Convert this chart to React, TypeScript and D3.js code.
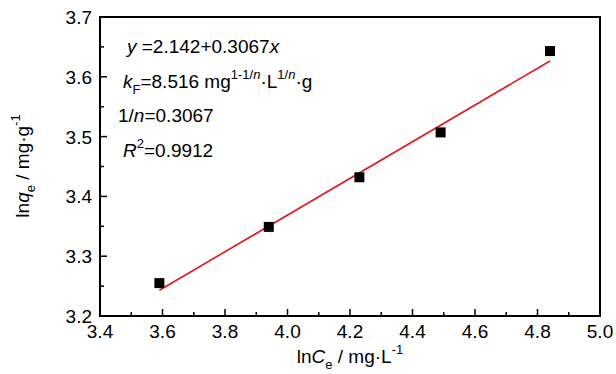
import React from "react";
import * as d3 from "d3";

const xData = [3.59, 3.94, 4.23, 4.49, 4.84];
const yData = [3.255, 3.349, 3.432, 3.507, 3.643];
const fitIntercept = 2.142;
const fitSlope = 0.3067;
const xTicks = [3.4, 3.6, 3.8, 4.0, 4.2, 4.4, 4.6, 4.8, 5.0];
const xMinor = [3.5, 3.7, 3.9, 4.1, 4.3, 4.5, 4.7, 4.9];
const yTicks = [3.2, 3.3, 3.4, 3.5, 3.6, 3.7];
const yMinor = [3.25, 3.35, 3.45, 3.55, 3.65];

const W = 616;
const H = 374;
const L = 100, R = 600, T = 17, B = 316;
const FONT = "'Liberation Sans', Arial, Helvetica, sans-serif";
const FS = 19;
const SS = 13;

export default function App() {
  const x = d3.scaleLinear().domain([3.4, 5.0]).range([L, R]);
  const y = d3.scaleLinear().domain([3.2, 3.7]).range([B, T]);
  const xExt = d3.extent(xData) as [number, number];
  const fit = d3
    .line<number>()
    .x((d) => x(d))
    .y((d) => y(fitIntercept + fitSlope * d));
  const ms = 10;
  return (
    <svg
      width={W}
      height={H}
      style={{ position: "absolute", left: 0, top: 0, background: "#fff" }}
      fontFamily={FONT}
    >
      <rect x={0} y={0} width={W} height={H} fill="#fff" />
      {/* ticks */}
      {xTicks.map((t) => (
        <line key={"xt" + t} x1={x(t)} x2={x(t)} y1={B} y2={B - 7} stroke="#000" strokeWidth={1.5} />
      ))}
      {xMinor.map((t) => (
        <line key={"xm" + t} x1={x(t)} x2={x(t)} y1={B} y2={B - 4} stroke="#000" strokeWidth={1.5} />
      ))}
      {yTicks.map((t) => (
        <line key={"yt" + t} x1={L} x2={L + 7} y1={y(t)} y2={y(t)} stroke="#000" strokeWidth={1.5} />
      ))}
      {yMinor.map((t) => (
        <line key={"ym" + t} x1={L} x2={L + 4} y1={y(t)} y2={y(t)} stroke="#000" strokeWidth={1.5} />
      ))}
      {/* frame */}
      <rect x={L} y={T} width={R - L} height={B - T} fill="none" stroke="#000" strokeWidth={2} />
      {/* tick labels */}
      {xTicks.map((t) => (
        <text key={"xl" + t} x={x(t)} y={338} fontSize={FS} textAnchor="middle" fill="#000">
          {t.toFixed(1)}
        </text>
      ))}
      {yTicks.map((t) => (
        <text key={"yl" + t} x={92} y={y(t) + 7} fontSize={FS} textAnchor="end" fill="#000">
          {t.toFixed(1)}
        </text>
      ))}
      {/* fit line */}
      <path d={fit(xExt) || ""} stroke="#e3161c" strokeWidth={1.6} fill="none" />
      {/* points */}
      {xData.map((d, i) => (
        <rect
          key={"p" + i}
          x={x(d) - ms / 2}
          y={y(yData[i]) - ms / 2}
          width={ms}
          height={ms}
          fill="#000"
        />
      ))}
      {/* annotation */}
      <text x={127} y={53} fontSize={FS} fill="#000">
        <tspan fontStyle="italic">y</tspan>
        <tspan> =2.142+0.3067</tspan>
        <tspan fontStyle="italic">x</tspan>
      </text>
      <text x={123} y={88} fontSize={FS} fill="#000">
        <tspan fontStyle="italic">k</tspan>
        <tspan fontSize={SS} dy={6}>F</tspan>
        <tspan dy={-6}>=8.516 mg</tspan>
        <tspan fontSize={SS} dy={-9}>1-1/</tspan>
        <tspan fontSize={SS} fontStyle="italic">n</tspan>
        <tspan dy={9}>·L</tspan>
        <tspan fontSize={SS} dy={-9}>1/</tspan>
        <tspan fontSize={SS} fontStyle="italic">n</tspan>
        <tspan dy={9}>·g</tspan>
      </text>
      <text x={118} y={122} fontSize={FS} fill="#000">
        <tspan>1/</tspan>
        <tspan fontStyle="italic">n</tspan>
        <tspan>=0.3067</tspan>
      </text>
      <text x={123} y={157} fontSize={FS} fill="#000">
        <tspan fontStyle="italic">R</tspan>
        <tspan fontSize={SS} dy={-9}>2</tspan>
        <tspan dy={9}>=0.9912</tspan>
      </text>
      {/* x axis title */}
      <text x={350} y={363} fontSize={FS} textAnchor="middle" fill="#000">
        <tspan>ln</tspan>
        <tspan fontStyle="italic">C</tspan>
        <tspan fontSize={SS} dy={6}>e</tspan>
        <tspan dy={-6}> / mg·L</tspan>
        <tspan fontSize={SS} dy={-9}>-1</tspan>
      </text>
      {/* y axis title */}
      <text
        transform="translate(29,166) rotate(-90)"
        fontSize={FS}
        textAnchor="middle"
        fill="#000"
      >
        <tspan>ln</tspan>
        <tspan fontStyle="italic">q</tspan>
        <tspan fontSize={SS} dy={6}>e</tspan>
        <tspan dy={-6}> / mg·g</tspan>
        <tspan fontSize={SS} dy={-9}>-1</tspan>
      </text>
    </svg>
  );
}
